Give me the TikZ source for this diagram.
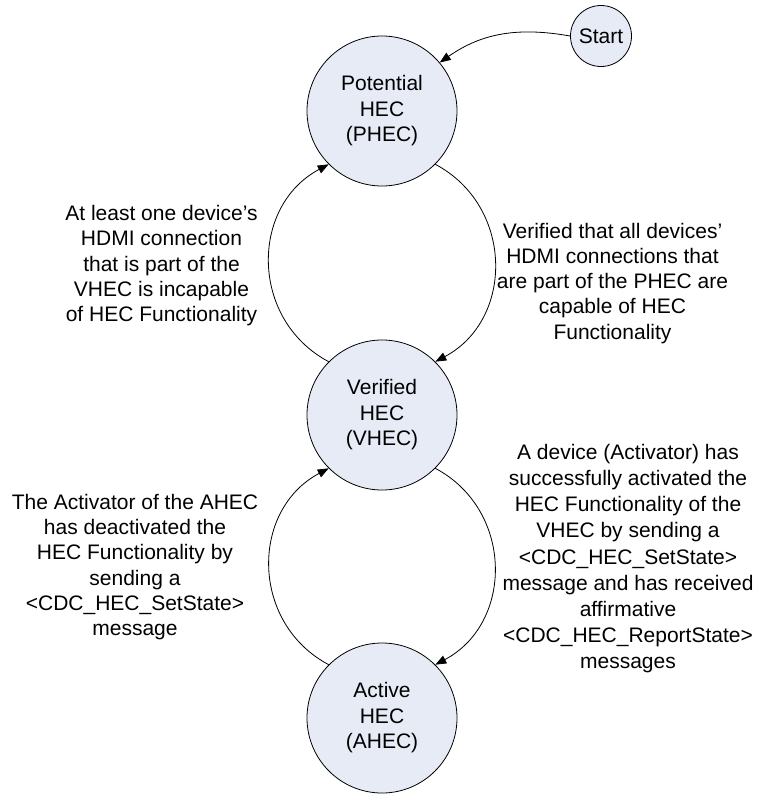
\documentclass[tikz,border=0pt]{standalone}
\usepackage{fontspec}
\setmainfont{Liberation Sans}
\usetikzlibrary{arrows.meta}
\definecolor{statefill}{RGB}{230,235,246}
\begin{document}
\begin{tikzpicture}[x=1pt,y=1pt,
  state/.style={circle,draw=black,line width=0.8pt,fill=statefill,minimum size=150pt,inner sep=0pt,align=center,font=\fontsize{21}{25.5}\selectfont},
  startst/.style={circle,draw=black,line width=0.8pt,fill=statefill,minimum size=61pt,inner sep=0pt,font=\fontsize{21}{25.5}\selectfont},
  lbl/.style={align=center,inner sep=0pt,font=\fontsize{21}{25.2}\selectfont},
  trans/.style={draw=black,line width=0.8pt,-{Triangle[length=11pt,width=8.5pt]}}
]
\useasboundingbox (0,0) rectangle (758,-795);
\node[state] (P) at (382,-111) {Potential\\HEC\\(PHEC)};
\node[state] (V) at (382,-415) {Verified\\HEC\\(VHEC)};
\node[state] (A) at (382,-718) {Active\\HEC\\(AHEC)};
\node[startst] (S) at (601,-36) {Start};
\draw[trans] (S.180) to[out=170,in=35] (P.40);
\draw[trans] (V.135) to[out=152,in=208,looseness=1.16] (P.225);
\draw[trans] (P.315) to[out=-28,in=28,looseness=1.16] (V.45);
\draw[trans] (A.135) to[out=152,in=208,looseness=1.16] (V.225);
\draw[trans] (V.315) to[out=-28,in=28,looseness=1.16] (A.45);
\node[lbl] (L1) at (161.5,-265.6) {At least one device’s\\HDMI connection\\that is part of the\\VHEC is incapable\\of HEC Functionality};
\node[lbl] (L2) at (612.5,-283.2) {Verified that all devices’\\HDMI connections that\\are part of the PHEC are\\capable of HEC\\Functionality};
\node[lbl] (L3) at (135,-567) {The Activator of the AHEC\\has deactivated the\\HEC Functionality by\\sending a\\<CDC\_HEC\_SetState>\\message};
\node[lbl,font=\fontsize{21}{26.2}\selectfont] (L4) at (628,-558.7) {A device (Activator) has\\successfully activated the\\HEC Functionality of the\\VHEC by sending a\\<CDC\_HEC\_SetState>\\message and has received\\affirmative\\<CDC\_HEC\_ReportState>\\messages};
\end{tikzpicture}
\end{document}
